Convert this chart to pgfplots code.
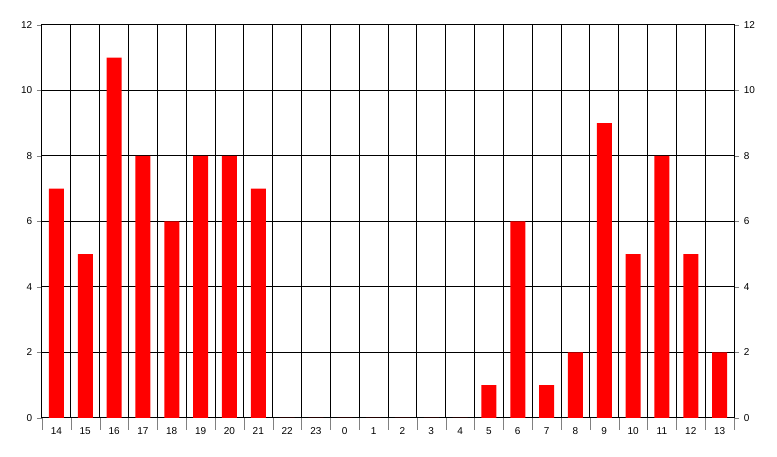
\documentclass[border=0pt]{standalone}
\usepackage{fontspec}
\setmainfont{Liberation Sans}
\usepackage{pgfplots}
\pgfplotsset{compat=1.18}

\pgfplotsset{
  hourstyle/.style={
    scale only axis,
    width=692pt, height=393pt,
    xmin=-0.5, xmax=23.5,
    ymin=0, ymax=12,
    ytick={0,2,...,12},
    tick align=outside,
    major tick length=5pt,
    minor tick length=12pt,
    every axis/.append style={line width=1pt},
    tick label style={font=\fontsize{10}{12}\selectfont},
    /pgf/number format/assume math mode=true,
  }
}

\begin{document}
\begin{tikzpicture}
\useasboundingbox (-42pt,-39pt) rectangle (735pt,418pt);
\begin{axis}[
    hourstyle,
    ybar,
    bar width=15pt,
    xtick={0,...,23},
    xticklabels={14,15,16,17,18,19,20,21,22,23,0,1,2,3,4,5,6,7,8,9,10,11,12,13},
    minor xtick={-0.5,0.5,...,23.5},
    major x tick style={draw=none},
    xtick pos=bottom,
    ytick pos=left,
    xmajorgrids=false,
    xminorgrids=true,
    ymajorgrids=true,
    grid style={black, line width=1pt},
    minor grid style={black, line width=1pt},
    axis line style={black, line width=1pt},
    yticklabel style={xshift=-1pt},
    xticklabel style={yshift=-1pt},
]
\addplot[fill=red, draw=none] coordinates {
    (0,7) (1,5) (2,11) (3,8) (4,6) (5,8) (6,8) (7,7)
    (8,0) (9,0) (10,0) (11,0) (12,0) (13,0) (14,0) (15,1)
    (16,6) (17,1) (18,2) (19,9) (20,5) (21,8) (22,5) (23,2)
};
\end{axis}
\begin{axis}[
    hourstyle,
    axis x line=none,
    axis y line*=right,
    ytick pos=right,
    yticklabel pos=right,
    axis line style={black, line width=1pt},
    yticklabel style={xshift=1pt},
]
\end{axis}
\end{tikzpicture}
\end{document}
